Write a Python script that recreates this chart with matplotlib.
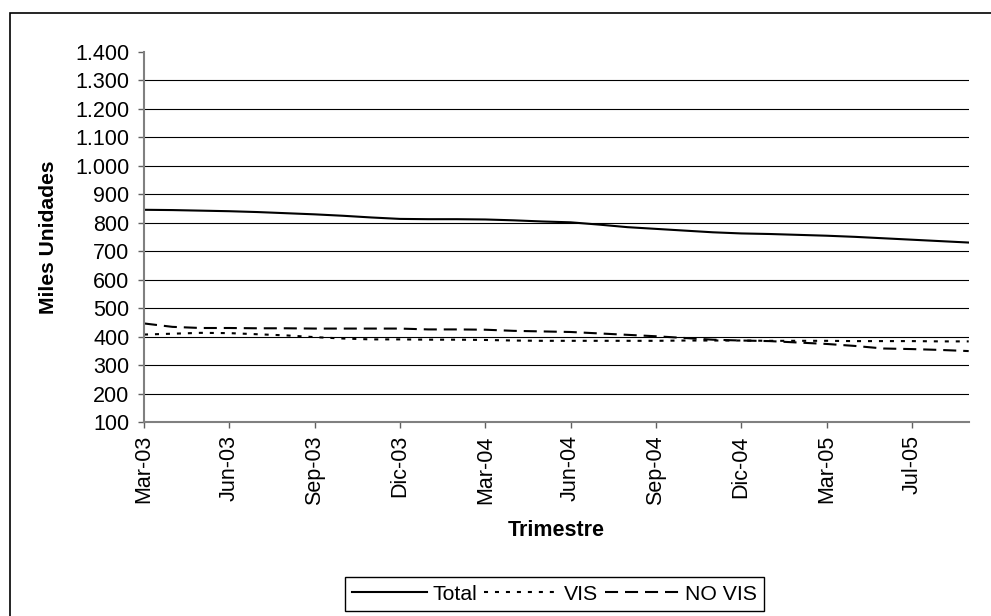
import numpy as np
import matplotlib
matplotlib.use("Agg")
import matplotlib.pyplot as plt
from matplotlib.patches import Rectangle

plt.rcParams['font.family'] = ['Liberation Sans', 'DejaVu Sans']
plt.rcParams['lines.scale_dashes'] = False

# Monthly values (miles de unidades)
total = [845, 844, 842, 840, 837, 833, 829, 824, 818, 813,
         812, 812, 811, 808, 804, 801, 793, 784, 778, 772,
         766, 762, 760, 757, 754, 750, 745, 740, 735, 730]
vis = [407, 410, 413, 412, 408, 404, 398, 393, 390, 390,
       389, 389, 388, 386, 385, 385, 385, 385, 385, 386,
       386, 386, 385, 385, 385, 384, 384, 384, 383, 383]
no_vis = [446, 434, 430, 430, 429, 429, 428, 428, 428, 428,
          425, 425, 424, 420, 418, 416, 411, 406, 401, 395,
          389, 386, 384, 379, 374, 367, 358, 356, 353, 349]

tick_labels = ["Mar-03", "Jun-03", "Sep-03", "Dic-03", "Mar-04",
               "Jun-04", "Sep-04", "Dic-04", "Mar-05", "Jul-05"]
tick_step = 3

x = np.arange(len(total))

fig = plt.figure(figsize=(9.91, 6.16), dpi=100)
ax = fig.add_axes([144 / 991, 1 - 422 / 616, 824.7 / 991, 370.3 / 616])

lw = 1.5
ax.plot(x, total, color='black', lw=lw, label='Total')
ax.plot(x, vis, color='black', lw=lw, linestyle=(0, (2.9, 5.0)), label='VIS')
ax.plot(x, no_vis, color='black', lw=lw, linestyle=(0, (9.4, 5.0)), label='NO VIS')

ax.set_xlim(0, len(total) - 1)
ax.set_ylim(100, 1400)

yt = np.arange(100, 1401, 100)
ax.set_yticks(yt)
ax.set_yticklabels([f"{v:,}".replace(",", ".") for v in yt])
for v in yt[1:-1]:
    ax.axhline(v, color='black', lw=0.8, zorder=0)

ax.set_xticks(np.arange(len(tick_labels)) * tick_step)
ax.set_xticklabels(tick_labels, rotation=90)

for s in ['top', 'right']:
    ax.spines[s].set_visible(False)
for s in ['left', 'bottom']:
    ax.spines[s].set_color('#808080')
    ax.spines[s].set_linewidth(1.5)

ax.tick_params(axis='both', direction='out', length=4.5, width=1,
               color='#606060', labelsize=15.5, pad=5)
ax.tick_params(axis='y', pad=6)

ax.set_ylabel("Miles Unidades", fontsize=15.2, fontweight='bold')
ax.yaxis.set_label_coords(-0.104, 0.5)
ax.set_xlabel("Trimestre", fontsize=15.5, fontweight='bold', va='center')
ax.xaxis.set_label_coords(0.5, -0.292)

leg = fig.legend(loc='center', bbox_to_anchor=(554.7 / 991, 1 - 594 / 616),
                 ncol=3, fontsize=15.3, frameon=True, fancybox=False,
                 framealpha=1, edgecolor='black', handlelength=3.5,
                 handletextpad=0.25, columnspacing=0.35, borderpad=0.35,
                 borderaxespad=0)
leg.get_frame().set_linewidth(1.0)

# outer chart border (clipped on right and bottom like the source)
fig.patches.append(Rectangle((9.5 / 991, -0.1), 1.2, 1 - 13.3 / 616 + 0.1,
                             transform=fig.transFigure, fill=False,
                             edgecolor='black', lw=1.2))

fig.savefig("out.png", dpi=100)
